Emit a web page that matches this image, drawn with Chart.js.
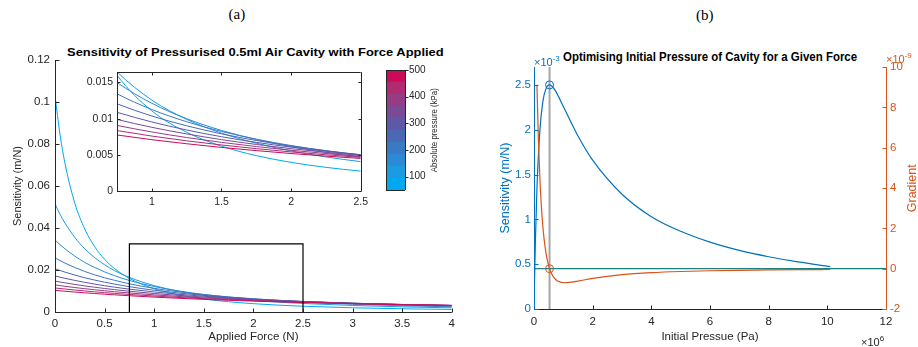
<!DOCTYPE html>
<html>
<head>
<meta charset="utf-8">
<script src="https://cdn.jsdelivr.net/npm/chart.js@4.4.1/dist/chart.umd.min.js"></script>
<style>
  body { margin: 0; background: #fff; }
  #page { position: relative; width: 918px; height: 347px; overflow: hidden; font-family: "Liberation Sans", Arial, sans-serif; color: #262626; }
  #page canvas { position: absolute; }
  .txt { position: absolute; white-space: nowrap; line-height: 1; }
  .panel { font-family: "Liberation Serif", "DejaVu Serif", serif; font-size: 15px; color: #000; }
  .ttl { font-weight: bold; font-size: 11px; color: #000; transform-origin: center center; }
  sup { font-size: 8px; vertical-align: 5px; }
</style>
</head>
<body>
<div id="page">
  <div class="txt panel" id="lblA">(a)</div>
  <div class="txt panel" id="lblB">(b)</div>
  <div class="txt ttl" id="titleA">Sensitivity of Pressurised 0.5ml Air Cavity with Force Applied</div>
  <div class="txt ttl" id="titleB" style="font-size:12px">Optimising Initial Pressure of Cavity for a Given Force</div>

  <canvas id="mainChart" width="460" height="302" style="left:0;top:45px"></canvas>
  <canvas id="insetChart" width="305" height="150" style="left:68px;top:62px"></canvas>
  <canvas id="cbarChart" width="60" height="140" style="left:380px;top:60px"></canvas>
  <div class="txt" id="cbarLabel" style="font-size:8.5px;color:#262626">Absolute pressure (kPa)</div>

  <canvas id="optChart" width="458" height="302" style="left:460px;top:45px"></canvas>
  <div class="txt" style="left:534px;top:55px;font-size:11px;color:#0072BD">&times;10<sup>-3</sup></div>
  <div class="txt" style="left:886px;top:52px;font-size:11px;color:#D95319">&times;10<sup>-9</sup></div>
  <div class="txt" style="left:861px;top:335px;font-size:11px;color:#262626">&times;10<sup>6</sup></div>
  <div class="txt" id="gradLabel" style="font-size:12.5px;color:#D95319">Gradient</div>
</div>

<script>
// ---- panel (a): sensitivity vs applied force, one curve per initial pressure ----
const forceN = [0, 0.05, 0.1, 0.2, 0.3, 0.4, 0.5, 0.6, 0.75, 1, 1.25, 1.5, 1.75, 2, 2.25, 2.5, 3, 3.5, 4];
const pressuresKPa = [50, 100, 150, 200, 250, 300, 350, 400, 450, 500];

const sens50  = [0.1030, 0.0847, 0.0709, 0.0518, 0.0395, 0.0311, 0.0251, 0.0207, 0.0160, 0.01107, 0.00812, 0.00620, 0.00489, 0.00396, 0.00327, 0.00275, 0.00201, 0.00154, 0.00122];
const sens100 = [0.0515, 0.0466, 0.0424, 0.0355, 0.0301, 0.0259, 0.0225, 0.0197, 0.01646, 0.01256, 0.00990, 0.00800, 0.00660, 0.00554, 0.00471, 0.00406, 0.00310, 0.00245, 0.00198];
const sens150 = [0.0343, 0.0321, 0.0301, 0.0266, 0.0236, 0.0212, 0.0191, 0.0173, 0.0150, 0.01212, 0.00999, 0.00837, 0.00712, 0.00613, 0.00533, 0.00468, 0.00369, 0.00298, 0.00246];
const sens200 = [0.02575, 0.0245, 0.0233, 0.0212, 0.0193, 0.0177, 0.0163, 0.0151, 0.01343, 0.01126, 0.00957, 0.00823, 0.00716, 0.00628, 0.00556, 0.00495, 0.00400, 0.00330, 0.00277];
const sens250 = [0.0206, 0.01978, 0.0190, 0.0176, 0.0163, 0.0152, 0.0142, 0.0133, 0.01205, 0.01036, 0.00901, 0.00790, 0.00698, 0.00622, 0.00557, 0.00502, 0.00414, 0.00347, 0.00296];
const sens300 = [0.01717, 0.01659, 0.01605, 0.01504, 0.01412, 0.01329, 0.01252, 0.01182, 0.01088, 0.00954, 0.00843, 0.00750, 0.00672, 0.00606, 0.00549, 0.00499, 0.00419, 0.00356, 0.00306];
const sens350 = [0.01471, 0.01429, 0.01389, 0.01313, 0.01243, 0.01179, 0.01120, 0.01064, 0.00989, 0.00880, 0.00789, 0.00710, 0.00643, 0.00585, 0.00535, 0.00490, 0.00417, 0.00359, 0.00312];
const sens400 = [0.01288, 0.01255, 0.01224, 0.01165, 0.01110, 0.01059, 0.01012, 0.00967, 0.00906, 0.00816, 0.00739, 0.00672, 0.00614, 0.00563, 0.00518, 0.00478, 0.00412, 0.00358, 0.00314];
const sens450 = [0.01144, 0.01119, 0.01094, 0.01047, 0.01003, 0.00961, 0.00922, 0.00886, 0.00835, 0.00759, 0.00693, 0.00636, 0.00585, 0.00540, 0.00500, 0.00465, 0.00404, 0.00354, 0.00313];
const sens500 = [0.01030, 0.01009, 0.00989, 0.00950, 0.00914, 0.00880, 0.00847, 0.00817, 0.00774, 0.00709, 0.00653, 0.00602, 0.00558, 0.00518, 0.00482, 0.00450, 0.00395, 0.00349, 0.00311];
const sensCurves = [sens50, sens100, sens150, sens200, sens250, sens300, sens350, sens400, sens450, sens500];
const curveColors = ['#00A9F0', '#1A9BE2', '#2C8AD4', '#3A79C4', '#4A68B4', '#5E58A6', '#7A4A96', '#963C86', '#B02B72', '#CC0A5A'];

// zoom region marked on the main axes
const zoomBoxX = [0.75, 0.75, 2.5, 2.5];
const zoomBoxY = [0, 0.0324, 0.0324, 0];

const mainXTicks = [0, 0.5, 1, 1.5, 2, 2.5, 3, 3.5, 4];
const mainYTicks = [0, 0.02, 0.04, 0.06, 0.08, 0.1, 0.12];
const insetXTicks = [1, 1.5, 2, 2.5];
const insetYTicks = [0, 0.005, 0.01, 0.015];
const cbarEdges = [50, 95, 140, 185, 230, 275, 320, 365, 410, 455, 500];
const cbarTicks = [100, 200, 300, 400, 500];

// ---- panel (b): optimum initial pressure ----
const initPressure = [0, 0.02, 0.05, 0.1, 0.2, 0.3, 0.4, 0.53, 0.7, 1, 1.5, 2, 3, 4, 5, 6, 7, 8, 9, 10.1];      // x10^6 Pa
const sensOpt      = [0, 0.35, 0.79, 1.34, 1.99, 2.31, 2.45, 2.50, 2.45, 2.26, 1.93, 1.66, 1.28, 1.03, 0.867, 0.746, 0.654, 0.583, 0.525, 0.474]; // x10^-3 m/N
const gradPressure = [0.1, 0.15, 0.2, 0.25, 0.3, 0.35, 0.4, 0.45, 0.53, 0.6, 0.7, 0.8, 1.06, 1.5, 2, 3, 4, 5, 6, 7, 8, 9, 10.1];
const gradOpt      = [9.12, 6.41, 4.50, 3.13, 2.13, 1.40, 0.857, 0.450, 0, -0.257, -0.484, -0.608, -0.699, -0.615, -0.481, -0.298, -0.198, -0.140, -0.104, -0.080, -0.064, -0.052, -0.042]; // x10^-9
const optPressure = 0.53;
const optSens = 2.5;
const optXTicks = [0, 2, 4, 6, 8, 10, 12];
const optYTicks = [0, 0.5, 1, 1.5, 2, 2.5];
const gradTicks = [-2, 0, 2, 4, 6, 8, 10];

const FONT = '"Liberation Sans", Arial, sans-serif';
const INK = '#262626';
const BLUE = '#0072BD';
const ORANGE = '#D95319';

const fmt = v => String(Math.round(v * 1e6) / 1e6);
const fixTicks = arr => scale => { scale.ticks = arr.map(v => ({ value: v })); };
const fixWidth = w => scale => { scale.width = w; };
const fixHeight = h => scale => { scale.height = h; };

// matlab-like axes: border lines with ticks pointing into the plot
const boxTicks = {
  id: 'boxTicks',
  afterDraw(chart, args, opts) {
    const ctx = chart.ctx, a = chart.chartArea, len = opts.len || 4;
    ctx.save();
    ctx.lineWidth = 1;
    (opts.axes || []).forEach(ax => {
      const sc = chart.scales[ax.id];
      ctx.strokeStyle = ax.color;
      ax.sides.forEach(side => {
        const horiz = side === 'top' || side === 'bottom';
        let pos = { top: a.top, bottom: a.bottom, left: a.left, right: a.right }[side];
        pos = Math.round(pos) + 0.5;
        let dir = (side === 'top' || side === 'left') ? 1 : -1;
        if (ax.out) dir = -dir;
        ctx.beginPath();
        if (horiz) { ctx.moveTo(a.left, pos); ctx.lineTo(a.right, pos); }
        else { ctx.moveTo(pos, a.top); ctx.lineTo(pos, a.bottom); }
        if (ax.ticks !== false) {
          sc.ticks.forEach(t => {
            const p = Math.round(sc.getPixelForValue(t.value)) + 0.5;
            if (horiz) { ctx.moveTo(p, pos); ctx.lineTo(p, pos + dir * len); }
            else { ctx.moveTo(pos, p); ctx.lineTo(pos + dir * len, p); }
          });
        }
        ctx.stroke();
      });
    });
    ctx.restore();
  }
};
Chart.register(boxTicks);
Chart.defaults.font.family = FONT;
Chart.defaults.color = INK;

function curveSets(width) {
  return sensCurves.map((vals, i) => ({
    label: pressuresKPa[i] + ' kPa',
    data: forceN.map((f, j) => ({ x: f, y: vals[j] })),
    borderColor: curveColors[i],
    borderWidth: width,
    pointRadius: 0,
    cubicInterpolationMode: 'monotone',
    order: sensCurves.length - i
  }));
}

const noGrid = { display: false, drawTicks: false };
const noBorder = { display: false };
const common = {
  responsive: false,
  animation: false,
  events: []
};

// main axes
const mainSets = curveSets(1);
mainSets.push({
  label: 'zoom',
  data: zoomBoxX.map((x, i) => ({ x: x, y: zoomBoxY[i] })),
  borderColor: '#000',
  borderWidth: 1.2,
  pointRadius: 0,
  order: 0
});
new Chart(document.getElementById('mainChart'), {
  type: 'line',
  data: { datasets: mainSets },
  options: Object.assign({}, common, {
    layout: { padding: { top: 15, right: 4, left: 0, bottom: 0 } },
    plugins: {
      legend: { display: false }, tooltip: { enabled: false },
      boxTicks: { len: 4, axes: [ { id: 'x', sides: ['bottom'], color: INK }, { id: 'y', sides: ['left'], color: INK } ] }
    },
    scales: {
      x: {
        type: 'linear', min: 0, max: 4,
        grid: noGrid, border: noBorder,
        afterBuildTicks: fixTicks(mainXTicks), afterFit: fixHeight(35),
        ticks: { padding: 5, font: { size: 11.5 }, color: INK, callback: fmt, maxRotation: 0 },
        title: { display: true, text: 'Applied Force (N)', font: { size: 11.5 }, color: INK, padding: { top: 0, bottom: 3 } }
      },
      y: {
        type: 'linear', min: 0, max: 0.12,
        grid: noGrid, border: noBorder,
        afterBuildTicks: fixTicks(mainYTicks), afterFit: fixWidth(55),
        ticks: { padding: 5, font: { size: 11.5 }, color: INK, callback: fmt },
        title: { display: true, text: 'Sensitivity (m/N)', font: { size: 11 }, color: INK, padding: { top: 11, bottom: 0 } }
      }
    }
  })
});

// inset
new Chart(document.getElementById('insetChart'), {
  type: 'line',
  data: { datasets: curveSets(1) },
  options: Object.assign({}, common, {
    layout: { padding: { top: 6, right: 4, left: 0, bottom: 0 } },
    plugins: {
      legend: { display: false }, tooltip: { enabled: false },
      boxTicks: { len: 3, axes: [ { id: 'x', sides: ['bottom', 'top'], color: INK }, { id: 'y', sides: ['left', 'right'], color: INK } ] }
    },
    scales: {
      x: {
        type: 'linear', min: 0.75, max: 2.5,
        grid: noGrid, border: noBorder,
        afterBuildTicks: fixTicks(insetXTicks), afterFit: fixHeight(21),
        ticks: { padding: 5, font: { size: 10.5 }, color: INK, callback: fmt, maxRotation: 0 }
      },
      y: {
        type: 'linear', min: 0, max: 0.0164,
        grid: noGrid, border: noBorder,
        afterBuildTicks: fixTicks(insetYTicks), afterFit: fixWidth(49),
        ticks: { padding: 4, font: { size: 10.5 }, color: INK, callback: fmt }
      }
    }
  })
});

// colorbar
new Chart(document.getElementById('cbarChart'), {
  type: 'bar',
  data: {
    labels: [''],
    datasets: curveColors.map((c, i) => ({
      data: [[cbarEdges[i], cbarEdges[i + 1]]],
      backgroundColor: c,
      borderWidth: 0,
      barPercentage: 1,
      categoryPercentage: 1,
      grouped: false
    }))
  },
  options: Object.assign({}, common, {
    layout: { padding: { top: 8, right: 0, left: 6, bottom: 9 } },
    plugins: {
      legend: { display: false }, tooltip: { enabled: false },
      boxTicks: { len: 3, axes: [ { id: 'x', sides: ['top', 'bottom'], color: INK, ticks: false }, { id: 'y', sides: ['left'], color: INK, ticks: false }, { id: 'y', sides: ['right'], color: INK, out: true } ] }
    },
    scales: {
      x: { display: false },
      y: {
        type: 'linear', position: 'right', min: 50, max: 500,
        grid: noGrid, border: noBorder,
        afterBuildTicks: fixTicks(cbarTicks), afterFit: fixWidth(35),
        ticks: { padding: 4, font: { size: 10 }, color: INK }
      }
    }
  })
});

// panel (b)
new Chart(document.getElementById('optChart'), {
  type: 'line',
  data: {
    datasets: [
      {
        label: 'opt pressure',
        data: [{ x: optPressure, y: 0 }, { x: optPressure, y: 2.7 }],
        yAxisID: 'y', borderColor: '#A6A6A6', borderWidth: 2, pointRadius: 0, order: 5
      },
      {
        label: 'zero gradient',
        data: [{ x: 0, y: 0 }, { x: 12, y: 0 }],
        yAxisID: 'y2', borderColor: '#1F7F7F', borderWidth: 1.3, pointRadius: 0, order: 4
      },
      {
        label: 'Sensitivity',
        data: initPressure.map((p, i) => ({ x: p, y: sensOpt[i] })),
        yAxisID: 'y', borderColor: BLUE, borderWidth: 1.2, pointRadius: 0,
        cubicInterpolationMode: 'monotone', order: 3
      },
      {
        label: 'Gradient',
        data: gradPressure.map((p, i) => ({ x: p, y: gradOpt[i] })),
        yAxisID: 'y2', borderColor: ORANGE, borderWidth: 1.2, pointRadius: 0,
        cubicInterpolationMode: 'monotone', order: 2
      },
      {
        label: 'max sens',
        data: [{ x: optPressure, y: optSens }],
        yAxisID: 'y', showLine: false, pointRadius: 4, pointBorderWidth: 1,
        pointBorderColor: BLUE, pointBackgroundColor: 'rgba(0,0,0,0)', order: 1
      },
      {
        label: 'zero grad',
        data: [{ x: optPressure, y: 0 }],
        yAxisID: 'y2', showLine: false, pointRadius: 4, pointBorderWidth: 1,
        pointBorderColor: ORANGE, pointBackgroundColor: 'rgba(0,0,0,0)', order: 1
      }
    ]
  },
  options: Object.assign({}, common, {
    layout: { padding: { top: 22, right: 0, left: 0, bottom: 0 } },
    plugins: {
      legend: { display: false }, tooltip: { enabled: false },
      boxTicks: { len: 4, axes: [ { id: 'x', sides: ['bottom'], color: INK }, { id: 'y', sides: ['left'], color: BLUE }, { id: 'y2', sides: ['right'], color: ORANGE } ] }
    },
    scales: {
      x: {
        type: 'linear', min: 0, max: 12,
        grid: noGrid, border: noBorder,
        afterBuildTicks: fixTicks(optXTicks), afterFit: fixHeight(38),
        ticks: { padding: 6, font: { size: 11.5 }, color: INK, callback: fmt, maxRotation: 0 },
        title: { display: true, text: 'Initial Pressue (Pa)', font: { size: 11.5 }, color: INK, padding: { top: 0, bottom: 3 } }
      },
      y: {
        type: 'linear', position: 'left', min: 0, max: 2.7,
        grid: noGrid, border: noBorder,
        afterBuildTicks: fixTicks(optYTicks), afterFit: fixWidth(74),
        ticks: { padding: 3, font: { size: 11.5 }, color: BLUE, callback: fmt },
        title: { display: true, text: 'Sensitivity (m/N)', font: { size: 12.5 }, color: BLUE, padding: { top: 38, bottom: 0 } }
      },
      y2: {
        type: 'linear', position: 'right', min: -2, max: 10,
        grid: noGrid, border: noBorder,
        afterBuildTicks: fixTicks(gradTicks), afterFit: fixWidth(32),
        ticks: { padding: 4, font: { size: 11.5 }, color: ORANGE, callback: fmt }
      }
    }
  })
});

// text placement helpers
function place(id, cx, cy, targetW, rot) {
  const el = document.getElementById(id);
  const w = el.offsetWidth, h = el.offsetHeight;
  el.style.left = (cx - w / 2) + 'px';
  el.style.top = (cy - h / 2) + 'px';
  let t = '';
  if (rot) t += 'rotate(' + rot + 'deg) ';
  if (targetW) t += 'scaleX(' + (targetW / w) + ')';
  el.style.transform = t;
}
place('lblA', 237, 14);
place('lblB', 705, 15);
place('titleA', 255.5, 52, 377);
place('titleB', 710, 57, 294);
place('cbarLabel', 434, 130, 84, -90);
place('gradLabel', 912, 188, null, -90);
</script>
</body>
</html>
